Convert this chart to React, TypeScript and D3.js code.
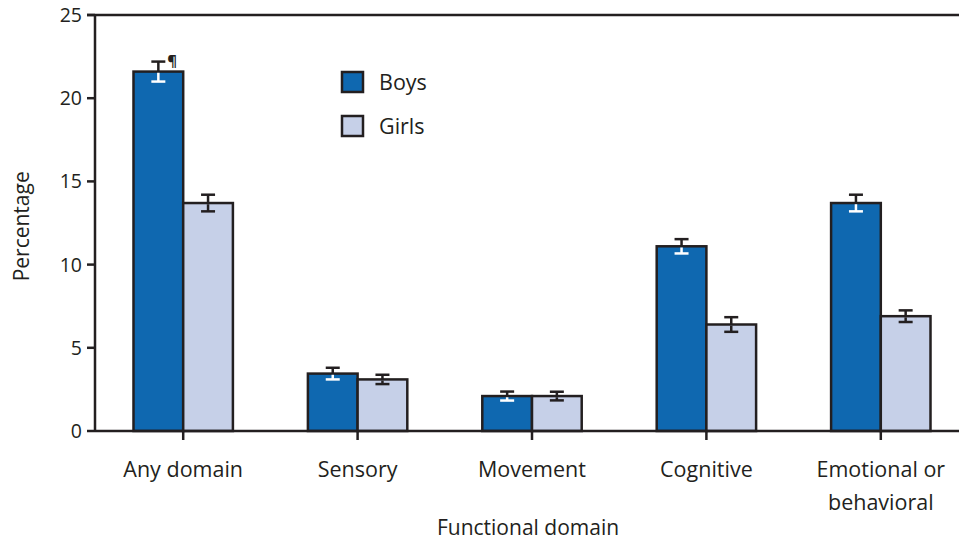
import React, { useEffect } from 'react';
import * as d3 from 'd3';

const categories = ['Any domain', 'Sensory', 'Movement', 'Cognitive', 'Emotional or behavioral'];
const categoryLines = [['Any domain'], ['Sensory'], ['Movement'], ['Cognitive'], ['Emotional or', 'behavioral']];
const series = ['Boys', 'Girls'];
const boys = [21.6, 3.45, 2.1, 11.1, 13.7];
const girls = [13.7, 3.1, 2.1, 6.4, 6.9];
const boysErr = [0.6, 0.35, 0.27, 0.43, 0.5];
const girlsErr = [0.5, 0.28, 0.26, 0.44, 0.35];
const yTicks = [0, 5, 10, 15, 20, 25];

const W = 959;
const H = 543;
const font = '"Open Sans", sans-serif';
const ink = '#231f20';
const colors = { Boys: '#0f68b0', Girls: '#c6d0e8' };

export default function App() {
  useEffect(() => {
    document.body.style.margin = '0';
  }, []);

  const x0 = d3.scaleBand().domain(categories).range([96, 968]).paddingInner(0.43).paddingOuter(0.215);
  const x1 = d3.scaleBand().domain(series).range([0, x0.bandwidth()]);
  const y = d3.scaleLinear().domain([0, 25]).range([431, 15]);
  const left = 95;

  const values: Record<string, number[]> = { Boys: boys, Girls: girls };
  const errs: Record<string, number[]> = { Boys: boysErr, Girls: girlsErr };

  return (
    <svg width={W} height={H} style={{ display: 'block', fontFamily: font }}>
      {/* bars */}
      {categories.map((c, i) => (
        <g key={c} transform={`translate(${x0(c)},0)`}>
          {series.map((s) => {
            const v = values[s][i];
            const e = errs[s][i];
            const bx = x1(s)!;
            const cx = bx + x1.bandwidth() / 2;
            const top = y(v);
            const hi = y(v + e);
            const lo = y(v - e);
            const inner = s === 'Boys' ? '#ffffff' : ink;
            return (
              <g key={s}>
                <rect x={bx} y={top} width={x1.bandwidth()} height={y(0) - top}
                  fill={colors[s as 'Boys' | 'Girls']} stroke={ink} strokeWidth={2.5} />
                <line x1={cx} x2={cx} y1={hi} y2={top} stroke={ink} strokeWidth={2.5} />
                <line x1={cx - 7} x2={cx + 7} y1={hi} y2={hi} stroke={ink} strokeWidth={2.5} />
                <line x1={cx} x2={cx} y1={top + 1.2} y2={lo} stroke={inner} strokeWidth={2.5} />
                <line x1={cx - 7} x2={cx + 7} y1={lo} y2={lo} stroke={inner} strokeWidth={2.5} />
                {i === 0 && s === 'Boys' && (
                  <text x={cx + 9} y={hi + 4} fontSize={15} fontWeight="bold" fill={ink}>¶</text>
                )}
              </g>
            );
          })}
        </g>
      ))}

      {/* y axis */}
      <line x1={left} x2={left} y1={y(25) - 1} y2={y(0)} stroke={ink} strokeWidth={2.5} />
      <line x1={87} x2={W} y1={y(25)} y2={y(25)} stroke={ink} strokeWidth={2.5} />
      <line x1={left} x2={W} y1={y(0)} y2={y(0)} stroke={ink} strokeWidth={2.5} />
      {yTicks.map((t) => (
        <g key={t}>
          <line x1={87} x2={left} y1={y(t)} y2={y(t)} stroke={ink} strokeWidth={2.5} />
          <text x={82} y={y(t)} dy="0.36em" textAnchor="end" fontSize={19.5} fill={ink}>{t}</text>
        </g>
      ))}
      <text transform={`translate(29,${y(12.3)}) rotate(-90)`} textAnchor="middle" fontSize={21} fill={ink}>
        Percentage
      </text>

      {/* x axis */}
      {categories.map((c, i) => {
        const cx = x0(c)! + x0.bandwidth() / 2;
        return (
          <g key={c}>
            <line x1={cx} x2={cx} y1={y(0)} y2={y(0) + 9} stroke={ink} strokeWidth={2.5} />
            {categoryLines[i].map((l, j) => (
              <text key={l} x={cx} y={477 + j * 33} textAnchor="middle" fontSize={21.5} fill={ink}>{l}</text>
            ))}
          </g>
        );
      })}
      <text x={(left + W) / 2 + 1} y={535} textAnchor="middle" fontSize={21} fill={ink}>Functional domain</text>

      {/* legend */}
      {series.map((s, i) => (
        <g key={s} transform={`translate(342,${72 + i * 44})`}>
          <rect width={21} height={20} fill={colors[s as 'Boys' | 'Girls']} stroke={ink} strokeWidth={2.5} />
          <text x={37} y={18} fontSize={21.5} fill={ink}>{s}</text>
        </g>
      ))}
    </svg>
  );
}
